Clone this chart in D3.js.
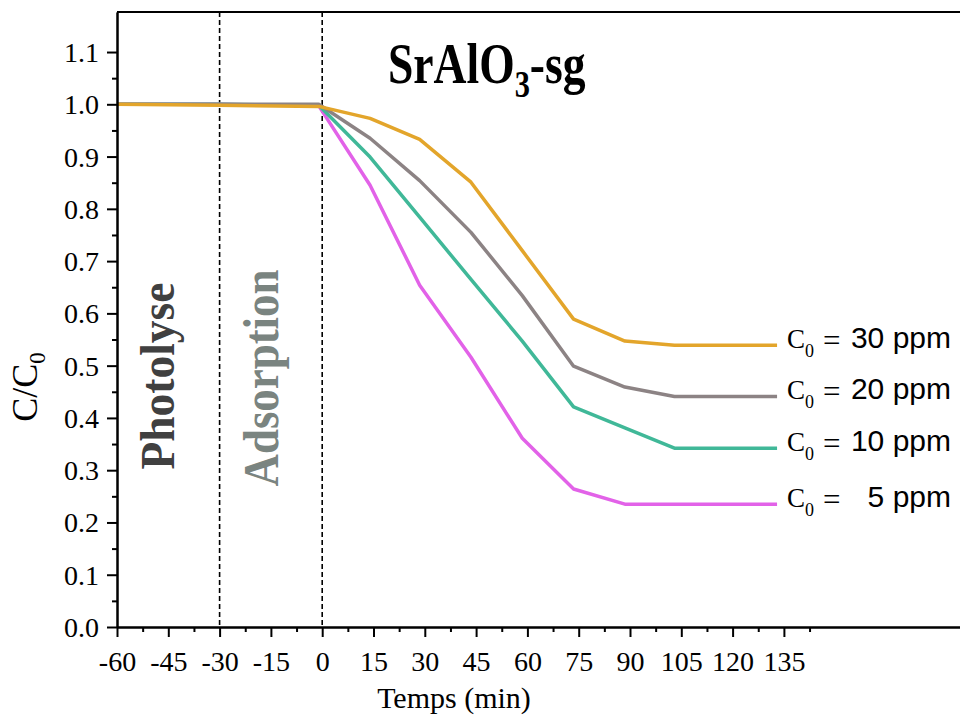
<!DOCTYPE html>
<html>
<head>
<meta charset="utf-8">
<script src="https://cdn.jsdelivr.net/npm/d3@7"></script>
<style>
  body { margin: 0; background: #fff; }
  svg { display: block; }
  .serif { font-family: "Liberation Serif", "Times New Roman", serif; }
  .sans { font-family: "Liberation Sans", Arial, sans-serif; }
</style>
</head>
<body>
<div id="chart"></div>
<script>
// time (min) and C/C0
const times = [-60, -30, -1, 14, 28.5, 43.5, 58.5, 73.5, 88.5, 103, 133];
const c5  = [1.0, 1.0, 0.997, 0.845, 0.654, 0.516, 0.361, 0.264, 0.235, 0.235, 0.235];
const c10 = [1.0, 1.0, 0.998, 0.899, 0.784, 0.665, 0.547, 0.421, 0.381, 0.342, 0.342];
const c20 = [1.0, 1.0, 1.0, 0.935, 0.854, 0.755, 0.634, 0.499, 0.459, 0.441, 0.441];
const c30 = [1.0, 0.998, 0.996, 0.973, 0.933, 0.851, 0.720, 0.589, 0.547, 0.539, 0.539];

const seriesNames = ["5 ppm", "10 ppm", "20 ppm", "30 ppm"];
const seriesValues = [c5, c10, c20, c30];
const seriesColors = ["#e262e8", "#40b898", "#8c8384", "#e3a52b"];

const xMajor = [-60, -45, -30, -15, 0, 15, 30, 45, 60, 75, 90, 105, 120, 135];
const xMinor = [-52.5, -37.5, -22.5, -7.5, 7.5, 22.5, 37.5, 52.5, 67.5, 82.5, 97.5, 112.5, 127.5, 142.5];
const yMajor = [0, 0.1, 0.2, 0.3, 0.4, 0.5, 0.6, 0.7, 0.8, 0.9, 1.0, 1.1];
const yMinor = [0.05, 0.15, 0.25, 0.35, 0.45, 0.55, 0.65, 0.75, 0.85, 0.95, 1.05];
const phaseLines = [-30, 0];

const W = 960, H = 717;
const margin = { top: 12, left: 117 };
const width = 845, height = 615;

const svg = d3.select("#chart").append("svg")
  .attr("width", W).attr("height", H)
  .attr("xmlns", "http://www.w3.org/2000/svg");

const g = svg.append("g")
  .attr("transform", `translate(${margin.left},${margin.top})`);

const x = d3.scaleLinear().domain([-60, -60 + width / 3.42]).range([0, width]);
const y = d3.scaleLinear().domain([0, height / 522.7]).range([height, 0]);

// frame: top line (left and bottom come from the axes)
g.append("line").attr("x1", 0).attr("x2", W).attr("y1", 0).attr("y2", 0)
  .attr("stroke", "#000").attr("stroke-width", 2);

// dashed phase separators
g.selectAll(".phase").data(phaseLines).join("line")
  .attr("x1", d => x(d)).attr("x2", d => x(d))
  .attr("y1", 0).attr("y2", height)
  .attr("stroke", "#000").attr("stroke-width", 1.6)
  .attr("stroke-dasharray", "5,3");

// phase labels
g.append("text").attr("class", "serif")
  .attr("transform", `translate(${174 - margin.left},${376 - margin.top}) rotate(-90)`)
  .attr("text-anchor", "middle").attr("font-weight", "bold")
  .attr("font-size", 48).attr("fill", "#404040")
  .attr("textLength", 187).attr("lengthAdjust", "spacingAndGlyphs")
  .text("Photolyse");
g.append("text").attr("class", "serif")
  .attr("transform", `translate(${278 - margin.left},${378 - margin.top}) rotate(-90)`)
  .attr("text-anchor", "middle").attr("font-weight", "bold")
  .attr("font-size", 51).attr("fill", "#7a8480")
  .attr("textLength", 217).attr("lengthAdjust", "spacingAndGlyphs")
  .text("Adsorption");

// curves
const line = d3.line().x((d, i) => x(times[i])).y(d => y(d));
g.selectAll(".curve").data(seriesValues).join("path")
  .attr("fill", "none")
  .attr("stroke", (d, i) => seriesColors[i])
  .attr("stroke-width", 3.5)
  .attr("stroke-linejoin", "round")
  .attr("d", d => line(d));

// axes
const yAxis = g.append("g").attr("class", "serif")
  .call(d3.axisLeft(y).tickValues(yMajor).tickSize(10).tickSizeOuter(0)
    .tickFormat(d3.format(".1f")).tickPadding(8));
g.append("g").call(d3.axisLeft(y).tickValues(yMinor).tickSize(5).tickSizeOuter(0).tickFormat(""));

const xAxis = g.append("g").attr("class", "serif")
  .attr("transform", `translate(0,${height})`)
  .call(d3.axisBottom(x).tickValues(xMajor).tickSize(10).tickSizeOuter(0).tickFormat(d => String(d)));
g.append("g").attr("transform", `translate(0,${height})`)
  .call(d3.axisBottom(x).tickValues(xMinor).tickSize(5).tickSizeOuter(0).tickFormat(""));

g.selectAll(".domain").attr("stroke-width", 2);
g.selectAll(".tick line").attr("stroke-width", 2);
yAxis.selectAll("text").attr("font-size", 28).attr("fill", "#000").attr("dy", "0.34em");
xAxis.selectAll("text").attr("font-size", 28).attr("fill", "#000").attr("y", 44).attr("dy", 0);

// axis titles
svg.append("text").attr("class", "serif")
  .attr("x", 454).attr("y", 708).attr("text-anchor", "middle")
  .attr("font-size", 30).text("Temps (min)");

const yt = svg.append("text").attr("class", "serif")
  .attr("transform", "translate(37,387) rotate(-90)")
  .attr("text-anchor", "middle").attr("font-size", 36);
yt.append("tspan").text("C/C");
yt.append("tspan").attr("font-size", 23).attr("dy", 8).text("0");

// title
const title = svg.append("text").attr("class", "serif")
  .attr("transform", "translate(388,83) scale(0.8,1)")
  .attr("font-weight", "bold").attr("font-size", 57);
title.append("tspan").text("SrAlO");
title.append("tspan").attr("font-size", 38).attr("dy", 14).text("3");
title.append("tspan").attr("dy", -14).text("-sg");

// end labels
const labels = g.selectAll(".endlabel").data(seriesValues).join("g")
  .attr("transform", d => `translate(0,${y(d[d.length - 1]) + 3})`);
labels.append("text").attr("class", "serif")
  .attr("x", 787 - margin.left).attr("font-size", 27)
  .call(t => {
    t.append("tspan").text("C");
    t.append("tspan").attr("font-size", 18).attr("dy", 9).text("0");
  });
labels.append("text").attr("class", "serif")
  .attr("x", 823 - margin.left).attr("font-size", 31).attr("dy", 3).text("=");
labels.append("text").attr("class", "sans")
  .attr("x", 951 - margin.left).attr("text-anchor", "end")
  .attr("font-size", 30).text((d, i) => seriesNames[i]);
</script>
</body>
</html>
